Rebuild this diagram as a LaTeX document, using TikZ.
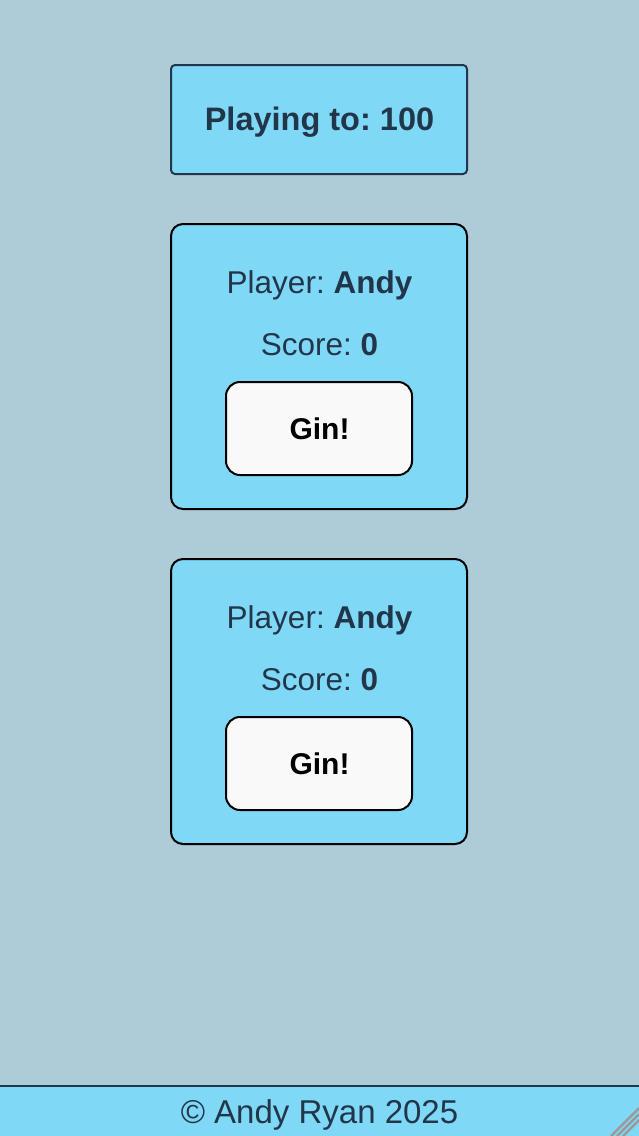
\documentclass[tikz,border=0pt]{standalone}
\usepackage{fontspec}
\setmainfont{Liberation Sans}
\frenchspacing
\definecolor{bgc}{HTML}{AECBD8}
\definecolor{boxc}{HTML}{80D8F7}
\definecolor{txtc}{HTML}{22364A}
\definecolor{btnc}{HTML}{F9F9F9}
\definecolor{gripc}{HTML}{9A9A9A}
\tikzset{
  card/.style={draw=black, line width=2pt, fill=boxc, rounded corners=12pt},
  header/.style={draw=txtc, line width=2pt, fill=boxc, rounded corners=4pt},
  btn/.style={draw=black, line width=2pt, fill=btnc, rounded corners=14pt},
  lbl/.style={text=txtc, font=\fontsize{31.5}{36}\selectfont, inner sep=0pt, anchor=base},
  btnlbl/.style={text=black, font=\fontsize{30}{36}\selectfont\bfseries, inner sep=0pt, anchor=base},
}
\begin{document}
\begin{tikzpicture}[x=1pt,y=-1pt]
\useasboundingbox (0,0) rectangle (639,1136);
\fill[bgc] (0,0) rectangle (639,1136);
% header
\draw[header] (171,65) rectangle (467,174);
\node[lbl, font=\fontsize{32.5}{36}\selectfont\bfseries] (title) at (319.5,130) {Playing to: 100};
% card 1
\draw[card] (171,224) rectangle (467,509);
\node[lbl] (p1) at (319.5,293) {Player: \textbf{Andy}};
\node[lbl] (s1) at (319.5,355) {Score: \textbf{0}};
\draw[btn] (226,382) rectangle (412,475);
\node[btnlbl] (g1) at (319.5,439) {Gin!};
% card 2
\draw[card] (171,559) rectangle (467,844);
\node[lbl] (p2) at (319.5,628) {Player: \textbf{Andy}};
\node[lbl] (s2) at (319.5,690) {Score: \textbf{0}};
\draw[btn] (226,717) rectangle (412,810);
\node[btnlbl] (g2) at (319.5,774) {Gin!};
% footer
\fill[boxc] (0,1086) rectangle (639,1136);
\draw[txtc, line width=2pt] (0,1086) -- (639,1086);
\node[lbl, font=\fontsize{33}{36}\selectfont] (foot) at (319.5,1123) {© Andy Ryan 2025};
% grip
\draw[gripc, line width=2.5pt] (611,1136) -- (639,1108);
\draw[gripc, line width=2.5pt] (617,1136) -- (639,1114);
\draw[gripc, line width=2.5pt] (623,1136) -- (639,1120);
\end{tikzpicture}
\end{document}
